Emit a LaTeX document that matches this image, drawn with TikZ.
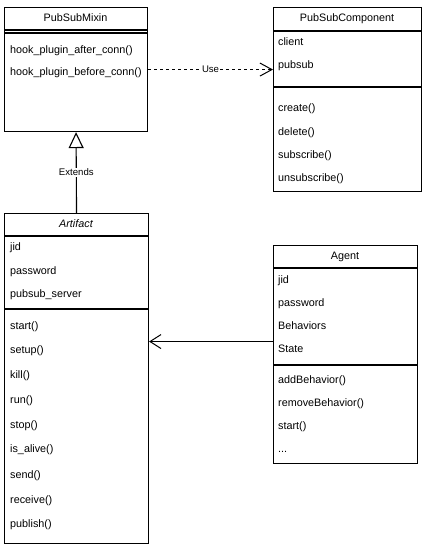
\documentclass[tikz,border=0pt]{standalone}
\usepackage{fontspec}
\setmainfont{Liberation Sans}
\usetikzlibrary{arrows.meta,calc}
\begin{document}
\begin{tikzpicture}[x=1pt,y=-1pt,
  font=\fontsize{10.8}{13}\selectfont,
  box/.style={draw, line width=1.1pt, anchor=north west, inner sep=0pt, fill=white},
  sepline/.style={line width=1.1pt},
  item/.style={anchor=west, inner sep=0pt, text height=8pt, text depth=2.5pt},
  ttl/.style={inner sep=0pt, text height=8pt, text depth=2.5pt},
  lbl/.style={fill=white, inner sep=1pt, font=\fontsize{9.6}{11}\selectfont},
  gen/.style={line width=1.1pt, -{Triangle[open, length=16pt, width=15pt, fill=white]}},
  dep/.style={line width=1pt, dash pattern=on 3pt off 3pt, -{Straight Barb[length=12pt, width=13pt]}},
  assoc/.style={line width=1pt, -{Straight Barb[length=11pt, width=14pt]}}]
\useasboundingbox[fill=white] (0,0) rectangle (422,550);

% PubSubMixin
\node[box, minimum width=143pt, minimum height=124pt] (mixin) at (4,7) {};
\draw[sepline] (4,30) -- (147,30);
\draw[sepline] (4,33) -- (147,33);
\node[ttl] (mixinT) at (75.5,19) {PubSubMixin};
\node[item] (m1) at (10,51) {hook\_plugin\_after\_conn()};
\node[item] (m2) at (10,73) {hook\_plugin\_before\_conn()};

% PubSubComponent
\node[box, minimum width=148pt, minimum height=184pt] (comp) at (273,7) {};
\draw[sepline] (273,31) -- (421,31);
\draw[sepline] (273,87) -- (421,87);
\node[ttl] (compT) at (347,19) {PubSubComponent};
\node[item] (c1) at (278,43) {client};
\node[item] (c2) at (278,66) {pubsub};
\node[item] (c3) at (278,109) {create()};
\node[item] (c4) at (278,133) {delete()};
\node[item] (c5) at (278,156) {subscribe()};
\node[item] (c6) at (278,179) {unsubscribe()};

% Artifact
\node[box, minimum width=144pt, minimum height=330pt] (artifact) at (4,213) {};
\draw[sepline] (4,236) -- (148,236);
\draw[sepline] (4,309) -- (148,309);
\node[ttl, font=\fontsize{10.8}{13}\selectfont\itshape] (artT) at (76,225) {Artifact};
\node[item] (a1) at (10,248) {jid};
\node[item] (a2) at (10,272) {password};
\node[item] (a3) at (10,295) {pubsub\_server};
\node[item] (a4) at (10,327) {start()};
\node[item] (a5) at (10,351) {setup()};
\node[item] (a6) at (10,376) {kill()};
\node[item] (a7) at (10,401) {run()};
\node[item] (a8) at (10,426) {stop()};
\node[item] (a9) at (10,450) {is\_alive()};
\node[item] (a10) at (10,476) {send()};
\node[item] (a11) at (10,501) {receive()};
\node[item] (a12) at (10,525) {publish()};

% Agent
\node[box, minimum width=144pt, minimum height=218pt] (agent) at (273,245) {};
\draw[sepline] (273,268) -- (417,268);
\draw[sepline] (273,365) -- (417,365);
\node[ttl] (agT) at (345,257) {Agent};
\node[item] (g1) at (278,281) {jid};
\node[item] (g2) at (278,304) {password};
\node[item] (g3) at (278,327) {Behaviors};
\node[item] (g4) at (278,350) {State};
\node[item] (g5) at (278,381) {addBehavior()};
\node[item] (g6) at (278,404) {removeBehavior()};
\node[item] (g7) at (278,427) {start()};
\node[item] (g8) at (278,450) {...};

% Connectors
\draw[gen] (artifact.north) -- node[lbl] {Extends} (mixin.south);
\draw[dep] (mixin.east) -- node[lbl, pos=0.5] {Use} (mixin.east -| comp.west);
\coordinate (agport) at ([yshift=13pt]agent.west);
\draw[assoc] (agport) -- (agport -| artifact.east);
\end{tikzpicture}
\end{document}
